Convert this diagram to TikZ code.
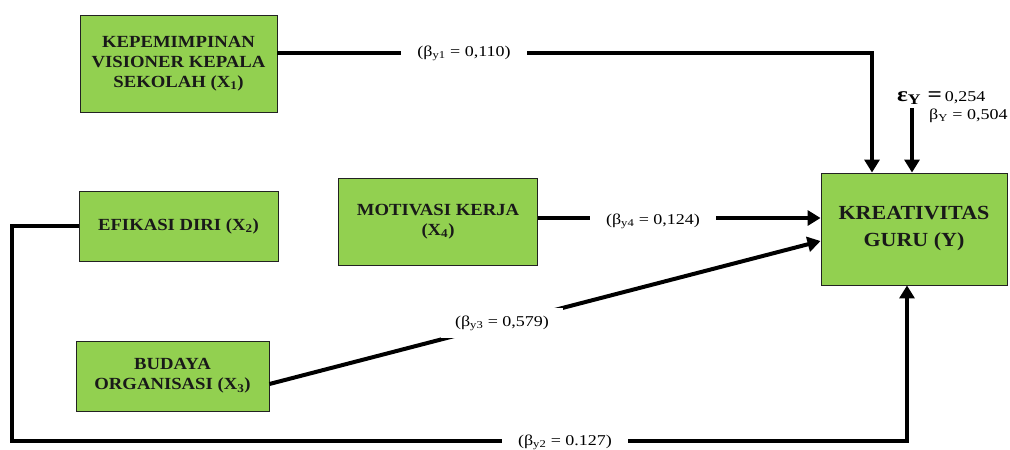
\documentclass[tikz,border=0pt]{standalone}
\usepackage{fontspec}
\setmainfont{Liberation Serif}
\newfontfamily\boxfont{Liberation Serif}[FakeStretch=1.1]
\newfontfamily\yfont{Liberation Serif}[FakeStretch=1.1]
\newfontfamily\labfont{Liberation Serif}[FakeStretch=1.2]
\usetikzlibrary{arrows.meta,calc}
\definecolor{boxgreen}{HTML}{92D050}
\definecolor{boxline}{HTML}{222222}
\tikzset{
  varbox/.style={draw=boxline, line width=0.9pt, fill=boxgreen, align=center, text=black!90, inner sep=0pt,
    font=\boxfont\bfseries\fontsize{17}{20}\selectfont},
  conn/.style={line width=4pt},
  arr/.style={conn, -{Triangle[length=13pt,width=15pt]}},
  coef/.style={fill=white, inner xsep=16pt, inner ysep=3pt, font=\labfont\fontsize{15}{17}\selectfont}
}
\begin{document}
\begin{tikzpicture}[x=1pt,y=-1pt]
\useasboundingbox (0,0) rectangle (1010,450);
% variable boxes
\node[varbox, minimum width=197pt, minimum height=97pt] (X1) at (178.5,63.5)
  {KEPEMIMPINAN\\VISIONER KEPALA\\SEKOLAH (X\textsubscript{1})};
\node[varbox, minimum width=199pt, minimum height=70pt] (X2) at (178.5,226)
  {EFIKASI DIRI (X\textsubscript{2})};
\node[varbox, minimum width=199pt, minimum height=87pt] (X4) at (438,221.5)
  {MOTIVASI KERJA\\(X\textsubscript{4})};
\node[varbox, minimum width=193pt, minimum height=70pt] (X3) at (172.5,376)
  {BUDAYA\\ORGANISASI (X\textsubscript{3})};
\node[varbox, minimum width=186pt, minimum height=112pt,
  font=\yfont\bfseries\fontsize{20}{27}\selectfont] (Y) at (914,229)
  {KREATIVITAS\\GURU (Y)};
% helper coordinates
\coordinate (c1) at (872,53);
\coordinate (e) at (912,108);
\coordinate (c4) at (537,218);
\coordinate (c3) at (269,384);
\coordinate (d3) at (821,241);
\coordinate (c2a) at (12,226);
\coordinate (c2b) at (12,441);
\coordinate (c2c) at (907,441);
% connectors
\draw[arr] (X1.east |- c1) -- (c1) -- (c1 |- Y.north);
\draw[arr] (e) -- (e |- Y.north);
\draw[arr] (X4.east |- c4) -- (c4 -| Y.west);
\draw[arr] (X3.east |- c3) -- (Y.west |- d3);
\draw[arr] (X2.west) -- (c2a) -- (c2b) -- (c2c) -- (c2c |- Y.south);
% coefficient labels
\node[coef] (l1) at (464,53) {(β\textsubscript{y1} = 0,110)};
\node[coef] (l4) at (653,221) {(β\textsubscript{y4} = 0,124)};
\node[coef, inner xsep=14pt, inner ysep=8pt] (l3) at (502,323) {(β\textsubscript{y3} = 0,579)};
\node[coef] (l2) at (565,442) {(β\textsubscript{y2} = 0.127)};
% error term
\node[anchor=base west, inner sep=0pt, font=\labfont] (eps) at (897,101)
  {{\fontsize{21}{21}\selectfont\bfseries ε\textsubscript{Y} =} {\fontsize{15}{17}\selectfont 0,254}};
\node[anchor=base west, inner sep=0pt, font=\labfont\fontsize{15}{17}\selectfont] (bety) at (929,119)
  {β\textsubscript{Y} = 0,504};
\end{tikzpicture}
\end{document}
